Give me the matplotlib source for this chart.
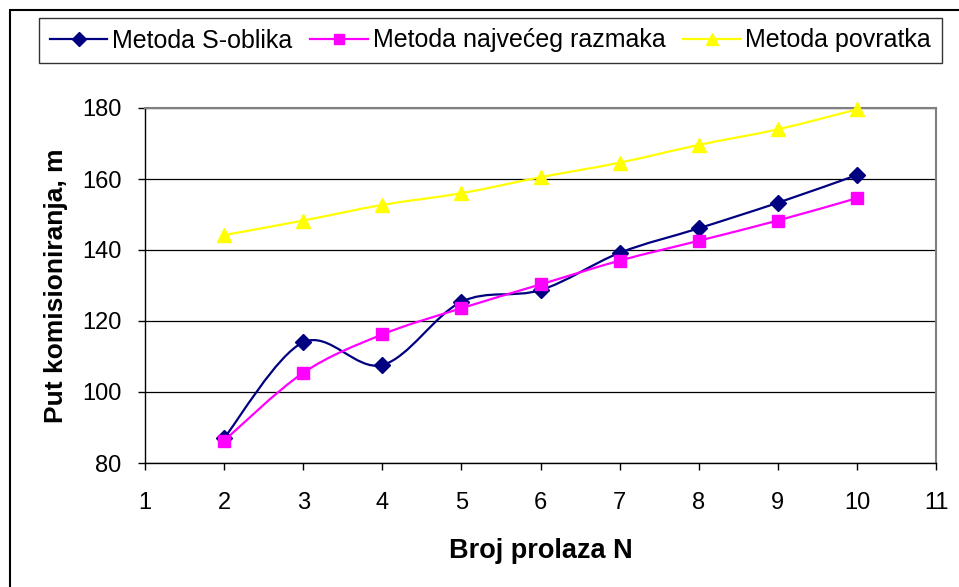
import numpy as np
import matplotlib
matplotlib.use("Agg")
import matplotlib.pyplot as plt
from matplotlib.path import Path
from matplotlib.patches import PathPatch, Rectangle
from matplotlib.lines import Line2D

plt.rcParams["font.family"] = ["Liberation Sans", "DejaVu Sans"]

# ── data ──────────────────────────────────────────────────────────────────────
broj_prolaza = [2, 3, 4, 5, 6, 7, 8, 9, 10]
s_oblik      = [87.0, 114.0, 107.6, 125.4, 128.7, 139.2, 146.1, 153.3, 161.1]
najveci_raz  = [86.3, 105.4, 116.2, 123.6, 130.3, 137.0, 142.6, 148.3, 154.6]
povratak     = [144.2, 148.3, 152.7, 156.0, 160.5, 164.6, 169.6, 174.0, 179.6]

labels = ["Metoda S-oblika", "Metoda najvećeg razmaka", "Metoda povratka"]
colors = ["#000080", "#FF00FF", "#FFFF00"]
markers = ["D", "s", "^"]
msizes = [8.5, 9, 10]

W, H = 959, 587
fig = plt.figure(figsize=(W / 100, H / 100), dpi=100)
ax = fig.add_axes([145 / W, 1 - 463 / H, (936 - 145) / W, (463 - 108) / H])

# outer chart border
fig.patches.append(Rectangle((10 / W, -0.1), 1.1, 1 - 10 / H + 0.1,
                             transform=fig.transFigure, fill=False,
                             ec="black", lw=1.5))


def smooth_path(xs, ys):
    # Excel-style smoothed line: cubic Bezier, Catmull-Rom control points
    pts = np.column_stack([xs, ys]).astype(float)
    n = len(pts)
    verts = [pts[0]]
    codes = [Path.MOVETO]
    for i in range(n - 1):
        p0 = pts[i - 1] if i > 0 else pts[i]
        p1, p2 = pts[i], pts[i + 1]
        p3 = pts[i + 2] if i + 2 < n else pts[i + 1]
        verts += [p1 + (p2 - p0) / 6, p2 - (p3 - p1) / 6, p2]
        codes += [Path.CURVE4] * 3
    return Path(verts, codes)


series = [s_oblik, najveci_raz, povratak]
handles = []
for vals, lab, c, m, ms in zip(series, labels, colors, markers, msizes):
    ax.add_patch(PathPatch(smooth_path(broj_prolaza, vals), fill=False,
                           ec=c, lw=1.6, zorder=3))
    ax.plot(broj_prolaza, vals, ls="none", marker=m, color=c, ms=ms,
            mec=c, zorder=4, clip_on=False)
    handles.append(Line2D([], [], color=c, lw=1.6, marker=m, ms=ms - 1.5))

ax.set_xlim(1, 11)
ax.set_ylim(80, 180)
ax.set_xticks(range(1, 12))
ax.set_yticks(range(80, 181, 20))
ax.yaxis.grid(True, color="black", lw=0.9)
ax.set_axisbelow(True)
for side in ["top", "right"]:
    ax.spines[side].set_color("#808080")
    ax.spines[side].set_linewidth(1.5)
for side in ["left", "bottom"]:
    ax.spines[side].set_color("black")
    ax.spines[side].set_linewidth(1.0)
ax.tick_params(direction="out", length=5, width=1, labelsize=17)
ax.tick_params(axis="x", pad=16)
ax.tick_params(axis="y", pad=12)

ax.set_xlabel("Broj prolaza N", fontsize=19.5, fontweight="bold", labelpad=17)
ax.set_ylabel("Put komisioniranja, m", fontsize=19, fontweight="bold",
              labelpad=10)

leg = fig.legend(handles=handles, labels=labels, ncol=3, loc="center",
                 bbox_to_anchor=(490.5 / W, 1 - 40.5 / H), fontsize=18,
                 frameon=True, fancybox=False, shadow=False,
                 handlelength=2.3, handletextpad=0.2, columnspacing=0.7,
                 borderpad=0.42, borderaxespad=0)
leg.get_frame().set_edgecolor("black")
leg.get_frame().set_linewidth(1.0)

fig.savefig("out.png", dpi=100)
